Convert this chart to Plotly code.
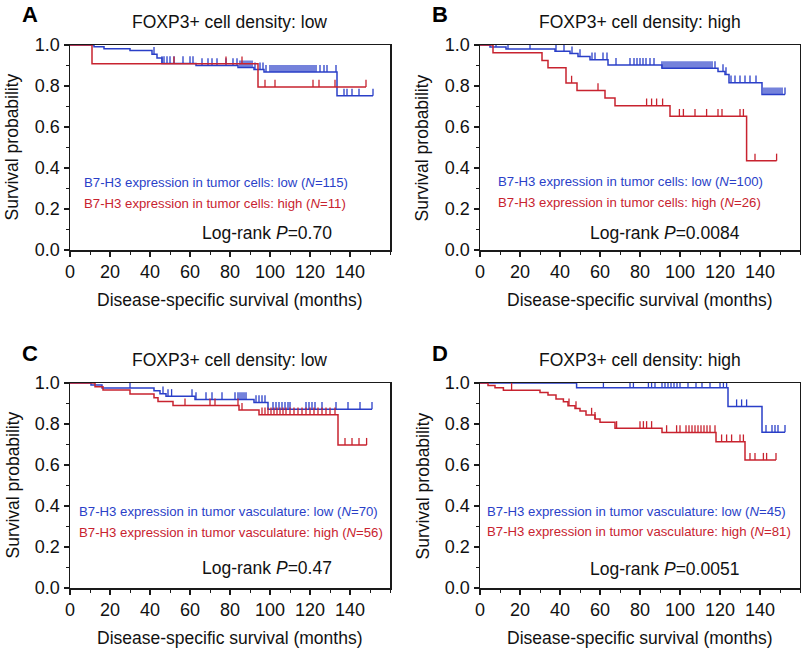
import plotly.graph_objects as go

# ---------------- data ----------------
X_TICKS = [0, 20, 40, 60, 80, 100, 120, 140]
Y_TICKS = [0.0, 0.2, 0.4, 0.6, 0.8, 1.0]
Y_TICK_TEXT = ["0.0", "0.2", "0.4", "0.6", "0.8", "1.0"]

PANEL_LETTERS = ["A", "B", "C", "D"]
PANEL_TITLES = ["FOXP3+ cell density: low", "FOXP3+ cell density: high",
                "FOXP3+ cell density: low", "FOXP3+ cell density: high"]
LOW_LABELS = ["B7-H3 expression in tumor cells: low (<i>N</i>=115)",
              "B7-H3 expression in tumor cells: low (<i>N</i>=100)",
              "B7-H3 expression in tumor vasculature: low (<i>N</i>=70)",
              "B7-H3 expression in tumor vasculature: low (<i>N</i>=45)"]
HIGH_LABELS = ["B7-H3 expression in tumor cells: high (<i>N</i>=11)",
               "B7-H3 expression in tumor cells: high (<i>N</i>=26)",
               "B7-H3 expression in tumor vasculature: high (<i>N</i>=56)",
               "B7-H3 expression in tumor vasculature: high (<i>N</i>=81)"]
P_VALUES = ["0.70", "0.0084", "0.47", "0.0051"]

# Panel A
A_low_t = [12, 17, 30, 41, 43.5, 46, 63, 84, 92, 97, 133.5]
A_low_s = [0.991, 0.982, 0.973, 0.955, 0.937, 0.91, 0.9, 0.89, 0.88, 0.868, 0.752]
A_low_c = [42, 46, 47, 48.5, 50, 52, 56.5, 60, 61.5, 66, 69, 71, 73.5, 78, 81.5, 83.5,
           85, 86, 87, 88, 89, 90, 91, 92.5, 95, 96.5, 98, 100, 101, 102, 103, 104,
           105, 106, 107, 108, 109, 110, 111, 112, 113, 114, 115, 116, 117, 118, 119,
           120, 121, 122, 123, 125, 127, 128.5, 133, 137, 138.5, 141, 144.5, 151.5]
A_high_t = [11, 94]
A_high_s = [0.909, 0.795]
A_high_c = [52, 78, 86, 97.5, 102.5, 121.5, 124.5, 132.5, 148]

# Panel B
B_low_t = [5, 13, 37.5, 45, 49, 55, 64, 91, 119, 122.5, 124.5, 141]
B_low_s = [0.99, 0.98, 0.97, 0.958, 0.944, 0.928, 0.902, 0.886, 0.871, 0.856, 0.816, 0.758]
B_low_c = [8, 14, 25, 38, 42, 46, 50, 56, 57.5, 61.5, 63.5, 68, 75, 77, 78.5, 80, 81.5,
           83, 85, 87, 91, 92, 93, 94, 95, 96, 97, 98, 99, 100, 101, 102, 103, 104,
           105, 106, 107, 108, 109, 110, 111, 112, 113, 114, 115, 116, 117.5, 121.5,
           123, 125.5, 127.5, 130, 132.5, 135, 138, 142, 143, 144, 145, 146, 147, 148,
           149, 150, 151, 152.5]
B_high_t = [6.5, 31, 34, 43, 48.5, 62.5, 67.5, 95, 133.3]
B_high_s = [0.962, 0.925, 0.889, 0.815, 0.778, 0.741, 0.704, 0.653, 0.435]
B_high_c = [45.8, 59, 83.3, 85.8, 88.3, 91.3, 99.7, 101.7, 107.5, 113.3, 119, 121,
            130, 131.7, 137.5, 148.3]

# Panel C
C_low_t = [10.5, 16, 42, 45, 48, 62.5, 92, 99]
C_low_s = [0.99, 0.976, 0.962, 0.948, 0.935, 0.92, 0.905, 0.872]
C_low_c = [30, 46.5, 49, 50.8, 61, 63, 68, 71, 76, 82.5, 84, 85, 86, 87, 88, 93, 94.5,
           96, 97.5, 101.5, 103, 104.5, 106, 107.5, 109, 110, 118, 119.5, 121, 122.5,
           126, 133, 139, 145, 151]
C_high_t = [12.5, 16.5, 30, 42, 44, 51.5, 84.5, 94.5, 134]
C_high_s = [0.982, 0.966, 0.946, 0.928, 0.91, 0.89, 0.868, 0.845, 0.697]
C_high_c = [57.5, 70, 72.5, 84, 86, 96, 97.5, 99, 100.5, 102, 103.5, 105, 106.5, 108,
            110, 112, 114, 116, 118, 120, 122, 124, 126, 128, 130, 132.5, 137.5, 141,
            144.5, 148.3]

# Panel D
D_low_t = [48.3, 124, 141]
D_low_s = [0.977, 0.885, 0.76]
D_low_c = [61.7, 75, 76.7, 84.2, 85.8, 87.5, 91, 92.5, 94, 95.5, 97, 98.5, 100, 104,
           108, 111, 115, 120, 121.7, 123.3, 128.3, 130.8, 133.3, 143, 146, 147.5, 149,
           152.5]
D_high_t = [4, 7.5, 11.7, 30, 34, 38, 41.7, 44, 47.5, 50, 53, 57.5, 60, 67.5, 91, 118, 132.5]
D_high_s = [0.988, 0.977, 0.965, 0.954, 0.941, 0.922, 0.909, 0.889, 0.876, 0.863, 0.844,
            0.824, 0.808, 0.779, 0.759, 0.714, 0.624]
D_high_c = [15.8, 44.5, 48, 55.8, 57.5, 68.3, 80, 81.7, 83.3, 85.8, 93.3, 98.3, 100, 103,
            104.5, 106, 107.5, 109, 110.5, 112, 113.5, 115, 117.5, 120.8, 123.3, 125.8,
            130, 131.7, 135, 137.5, 141.7, 143.3, 148]

CURVES = [
    ((A_low_t, A_low_s, A_low_c), (A_high_t, A_high_s, A_high_c)),
    ((B_low_t, B_low_s, B_low_c), (B_high_t, B_high_s, B_high_c)),
    ((C_low_t, C_low_s, C_low_c), (C_high_t, C_high_s, C_high_c)),
    ((D_low_t, D_low_s, D_low_c), (D_high_t, D_high_s, D_high_c)),
]

# ---------------- styling / layout ----------------
W, H = 801, 648
FONT = "Arial, Liberation Sans, Helvetica, sans-serif"
BLUE = "#2a3fc8"
RED = "#c8232f"
AXC = "#1a1a1a"
TICK_H = 0.035

# panel plot boxes in window pixels: (left, right, top, bottom)
BOXES = [(70, 390, 45, 250), (480, 800, 45, 250), (70, 390, 383, 588), (480, 800, 383, 588)]


def fx(px):
    return px / W


def fy(py):
    return 1 - py / H


def km_xy(t, s, c):
    end = max([max(c) if c else 0] + list(t))
    xs = [0] + list(t) + [end]
    ys = [1.0] + list(s) + [s[-1]]
    return xs, ys


def censor_xy(t, s, c):
    xs, ys = [], []
    for ct in c:
        lvl = 1.0
        for ti, si in zip(t, s):
            if ti <= ct:
                lvl = si
        xs += [ct, ct, None]
        ys += [lvl, lvl + TICK_H, None]
    return xs, ys


fig = go.Figure()
annotations = []
layout_axes = {}

for i, (box, (low, high)) in enumerate(zip(BOXES, CURVES)):
    n = "" if i == 0 else str(i + 1)
    L, R, T, B = box
    xd = [fx(L), min(1.0, fx(R))]
    yd = [fy(B), fy(T)]
    xref, yref = "x" + n, "y" + n
    for (t, s, c), col in ((low, BLUE), (high, RED)):
        kx, ky = km_xy(t, s, c)
        fig.add_trace(go.Scatter(x=kx, y=ky, mode="lines", line=dict(color=col, width=1.5, shape="hv"),
                                 xaxis=xref, yaxis=yref, showlegend=False, hoverinfo="skip"))
        cx, cy = censor_xy(t, s, c)
        fig.add_trace(go.Scatter(x=cx, y=cy, mode="lines", line=dict(color=col, width=1.3),
                                 xaxis=xref, yaxis=yref, showlegend=False, hoverinfo="skip"))

    layout_axes["xaxis" + n] = dict(
        domain=xd, anchor=yref, range=[0, 160], tickvals=X_TICKS, automargin=False,
        showline=True, mirror=True, linecolor=AXC, linewidth=1.5,
        ticks="outside", ticklen=5, tickwidth=1.2, tickcolor=AXC,
        minor=dict(tick0=0, dtick=10, ticks="outside", ticklen=3, tickwidth=1, tickcolor=AXC),
        showgrid=False, zeroline=False, fixedrange=True,
        tickfont=dict(family=FONT, size=18, color="#111"))
    layout_axes["yaxis" + n] = dict(
        domain=yd, anchor=xref, range=[0, 1], tickvals=Y_TICKS, ticktext=Y_TICK_TEXT,
        automargin=False,
        showline=True, mirror=True, linecolor=AXC, linewidth=1.5,
        ticks="outside", ticklen=5, tickwidth=1.2, tickcolor=AXC,
        minor=dict(tick0=0, dtick=0.1, ticks="outside", ticklen=3, tickwidth=1, tickcolor=AXC),
        showgrid=False, zeroline=False, fixedrange=True,
        tickfont=dict(family=FONT, size=18, color="#111"))

    cxp = fx((L + R) / 2)
    # panel letter
    annotations.append(dict(text="<b>%s</b>" % PANEL_LETTERS[i], xref="paper", yref="paper",
                            x=fx(L - 40), y=fy(T - 30), showarrow=False,
                            font=dict(family=FONT, size=22, color="#000"),
                            xanchor="center", yanchor="middle"))
    # title
    annotations.append(dict(text=PANEL_TITLES[i], xref="paper", yref="paper",
                            x=cxp, y=fy(T - 23), showarrow=False,
                            font=dict(family=FONT, size=17.5, color="#111"),
                            xanchor="center", yanchor="middle"))
    # y-axis title
    annotations.append(dict(text="Survival probability", xref="paper", yref="paper",
                            x=fx(L - 58), y=fy((T + B) / 2), showarrow=False,
                            textangle=-90, font=dict(family=FONT, size=17.5, color="#111"),
                            xanchor="center", yanchor="middle"))
    # x-axis title
    annotations.append(dict(text="Disease-specific survival (months)", xref="paper", yref="paper",
                            x=cxp, y=fy(B + 50), showarrow=False,
                            font=dict(family=FONT, size=17.5, color="#111"),
                            xanchor="center", yanchor="middle"))

# group labels and log-rank texts (domain-relative positions)
LEG_POS = [(0.0375, 0.327, 0.229), (0.05, 0.332, 0.234), (0.022, 0.371, 0.273), (0.016, 0.371, 0.276)]
P_POS = [(0.616, 0.083), (0.578, 0.083), (0.616, 0.098), (0.578, 0.093)]
for i in range(4):
    n = "" if i == 0 else str(i + 1)
    lx, ly1, ly2 = LEG_POS[i]
    annotations.append(dict(text=LOW_LABELS[i], xref="x%s domain" % n, yref="y%s domain" % n,
                            x=lx, y=ly1, showarrow=False, xanchor="left", yanchor="middle",
                            font=dict(family=FONT, size=13.2, color=BLUE)))
    annotations.append(dict(text=HIGH_LABELS[i], xref="x%s domain" % n, yref="y%s domain" % n,
                            x=lx, y=ly2, showarrow=False, xanchor="left", yanchor="middle",
                            font=dict(family=FONT, size=13.2, color=RED)))
    px_, py_ = P_POS[i]
    annotations.append(dict(text="Log-rank <i>P</i>=%s" % P_VALUES[i],
                            xref="x%s domain" % n, yref="y%s domain" % n,
                            x=px_, y=py_, showarrow=False, xanchor="center", yanchor="middle",
                            font=dict(family=FONT, size=17.5, color="#111")))

fig.update_layout(template="none", width=W, height=H, margin=dict(l=0, r=0, t=0, b=0, pad=0),
                  paper_bgcolor="white", plot_bgcolor="white",
                  annotations=annotations, showlegend=False, **layout_axes)

# remove the default 8px page margin so the 801x648 figure fills the window exactly
fig.write_html("out.html", config={"displayModeBar": False, "staticPlot": True},
               post_script="document.body.style.margin='0px';document.body.style.overflow='hidden';")
